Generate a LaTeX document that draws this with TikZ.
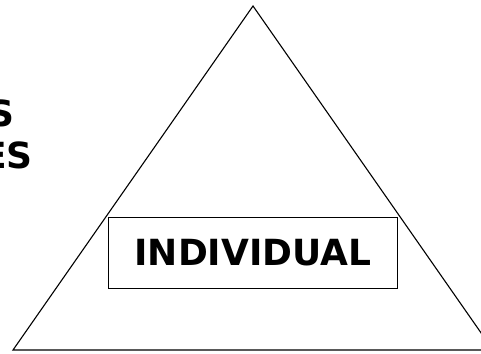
\documentclass[tikz,border=0pt]{standalone}
\usepackage{fontspec}
\setmainfont{DejaVu Sans}
\usetikzlibrary{positioning}
\begin{document}
\begin{tikzpicture}[x=1pt, y=-1pt,
  every node/.style = {font=\bfseries\fontsize{36}{42}\selectfont},
  levelbox/.style = {rectangle, draw, line width=1.6pt,
                     minimum width=289pt, minimum height=71pt,
                     inner sep=0pt, align=center},
  side/.style = {line width=1.1pt, line join=miter},
]
\useasboundingbox (0,0) rectangle (481,353);
\clip (0,0) rectangle (481,353);

%% ══ Pyramid ════════════════════════════════════════════════════════════
\coordinate (apex)  at (253,6);
\coordinate (left)  at (13,350);
\coordinate (right) at (493,350);
\draw[side] (apex) -- (right) -- (left) -- cycle;

%% ── Level box ─────────────────────────────────────────────────────────
\node[levelbox] (indiv) at (253,253) {INDIVIDUAL};

%% ── Side labels (cut by the page edge) ───────────────────────────────
\node[anchor=east, inner sep=0pt] (lineone) at (15,113) {S};
\node[anchor=east, inner sep=0pt] (linetwo) at (33,155) {ES};

\end{tikzpicture}
\end{document}
